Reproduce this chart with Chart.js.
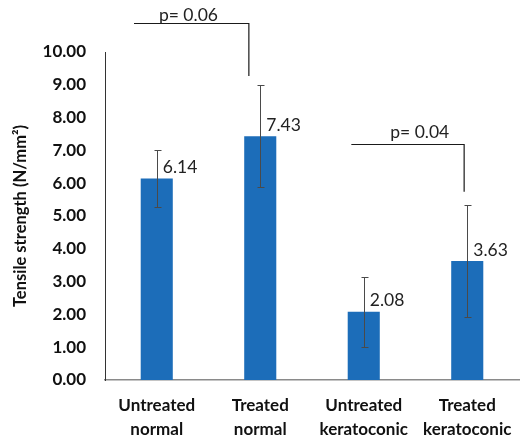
<!DOCTYPE html>
<html>
<head>
<meta charset="utf-8">
<script src="https://cdn.jsdelivr.net/npm/chart.js@4/dist/chart.umd.min.js"></script>
<style>
  html, body { margin: 0; padding: 0; background: #ffffff; }
  #wrap { width: 528px; height: 438px; position: relative; }
</style>
</head>
<body>
<div id="wrap"><canvas id="chart"></canvas></div>
<script>
// Groups shown along the x axis (two-line labels)
const categories = [
  ['Untreated', 'normal'],
  ['Treated', 'normal'],
  ['Untreated', 'keratoconic'],
  ['Treated', 'keratoconic']
];
// Mean tensile strength (N/mm²) per group
const meanStrength = [6.14, 7.43, 2.08, 3.63];
// Standard deviation shown as error bars
const strengthSD = [0.86, 1.55, 1.07, 1.71];
// Pairwise comparisons: group indices and reported p-values
const comparisonPairs = [[0, 1], [2, 3]];
const comparisonLabels = ['p= 0.06', 'p= 0.04'];
// Y axis range and step
const yMin = 0, yMax = 10, yStep = 1;

const FONT = 'Lato, "Open Sans", sans-serif';
const BAR_BLUE = '#1c6db9';

// Draws error bars, value labels and significance brackets
const annotationPlugin = {
  id: 'barAnnotations',
  afterDatasetsDraw(chart, args, opts) {
    const ctx = chart.ctx;
    const xs = chart.scales.x, ys = chart.scales.y;
    const meta = chart.getDatasetMeta(0);
    const vals = chart.data.datasets[0].data;
    const sds = chart.data.datasets[0].sd;

    ctx.save();
    // error bars
    ctx.strokeStyle = '#4a4a4a';
    ctx.lineWidth = 1;
    meta.data.forEach((bar, i) => {
      const x = Math.round(bar.x) + 0.5;
      const yHi = Math.round(ys.getPixelForValue(vals[i] + sds[i])) + 0.5;
      const yLo = Math.round(ys.getPixelForValue(vals[i] - sds[i])) + 0.5;
      ctx.beginPath();
      ctx.moveTo(x, yHi); ctx.lineTo(x, yLo);
      ctx.moveTo(x - 3, yHi); ctx.lineTo(x + 4, yHi);
      ctx.moveTo(x - 3, yLo); ctx.lineTo(x + 4, yLo);
      ctx.stroke();
    });

    // value labels, to the right of the error bar above the bar top
    ctx.fillStyle = '#222222';
    ctx.font = '17.5px ' + FONT;
    ctx.textAlign = 'left';
    ctx.textBaseline = 'middle';
    meta.data.forEach((bar, i) => {
      ctx.fillText(vals[i].toFixed(2), bar.x + 6, bar.y - 11);
    });

    // significance brackets
    const step = xs.getPixelForValue(1) - xs.getPixelForValue(0);
    ctx.strokeStyle = '#1a1a1a';
    ctx.lineWidth = 1.2;
    opts.brackets.forEach((b, k) => {
      const [a, c] = comparisonPairs[k];
      const x1 = xs.getPixelForValue(a) + b.fromShift * step;
      const x2 = xs.getPixelForValue(c) + b.toShift * step;
      const yTop = Math.round(ys.getPixelForValue(b.level)) + 0.5;
      const yEnd = ys.getPixelForValue(b.end);
      ctx.beginPath();
      ctx.moveTo(x1, yTop);
      ctx.lineTo(x2, yTop);
      ctx.lineTo(x2, yEnd);
      ctx.stroke();
      ctx.fillStyle = '#222222';
      ctx.font = '17.5px ' + FONT;
      ctx.textAlign = 'center';
      ctx.textBaseline = 'alphabetic';
      ctx.fillText(comparisonLabels[k], (x1 + x2) / 2 + b.textShift, yTop - b.textGap);
    });
    ctx.restore();
  }
};

new Chart(document.getElementById('chart'), {
  type: 'bar',
  data: {
    labels: categories,
    datasets: [{
      data: meanStrength,
      sd: strengthSD,
      backgroundColor: BAR_BLUE,
      borderWidth: 0,
      categoryPercentage: 1,
      barPercentage: 0.31
    }]
  },
  options: {
    responsive: true,
    maintainAspectRatio: false,
    animation: false,
    layout: { padding: { top: 52, right: 9, left: 0, bottom: 0 } },
    plugins: {
      legend: { display: false },
      tooltip: { enabled: false },
      barAnnotations: {
        brackets: [
          { fromShift: -0.22, toShift: -0.11, level: 10.88, end: 9.27, textShift: -3, textGap: 3 },
          { fromShift: -0.12, toShift: -0.03, level: 7.19, end: 5.74, textShift: 12, textGap: 7 }
        ]
      }
    },
    scales: {
      x: {
        grid: { display: false, drawTicks: false },
        border: { display: true, color: '#8a8a8a', width: 1.5 },
        ticks: {
          color: '#111111',
          font: { family: FONT, size: 17, weight: 'bold', lineHeight: 1.42 },
          padding: 13,
          maxRotation: 0,
          autoSkip: false
        },
        afterFit(scale) { scale.height = 58; }
      },
      y: {
        min: yMin,
        max: yMax,
        grid: { display: false, drawTicks: false },
        border: { display: true, color: '#333333', width: 1 },
        ticks: {
          stepSize: yStep,
          color: '#111111',
          font: { family: FONT, size: 17, weight: 'bold' },
          padding: 19,
          callback: v => Number(v).toFixed(2)
        },
        title: {
          display: true,
          text: 'Tensile strength (N/mm²)',
          color: '#111111',
          font: { family: FONT, size: 16.5, weight: 'bold' },
          padding: { top: 11, bottom: 0 }
        },
        afterFit(scale) { scale.width = 105; }
      }
    }
  },
  plugins: [annotationPlugin]
});
</script>
</body>
</html>
